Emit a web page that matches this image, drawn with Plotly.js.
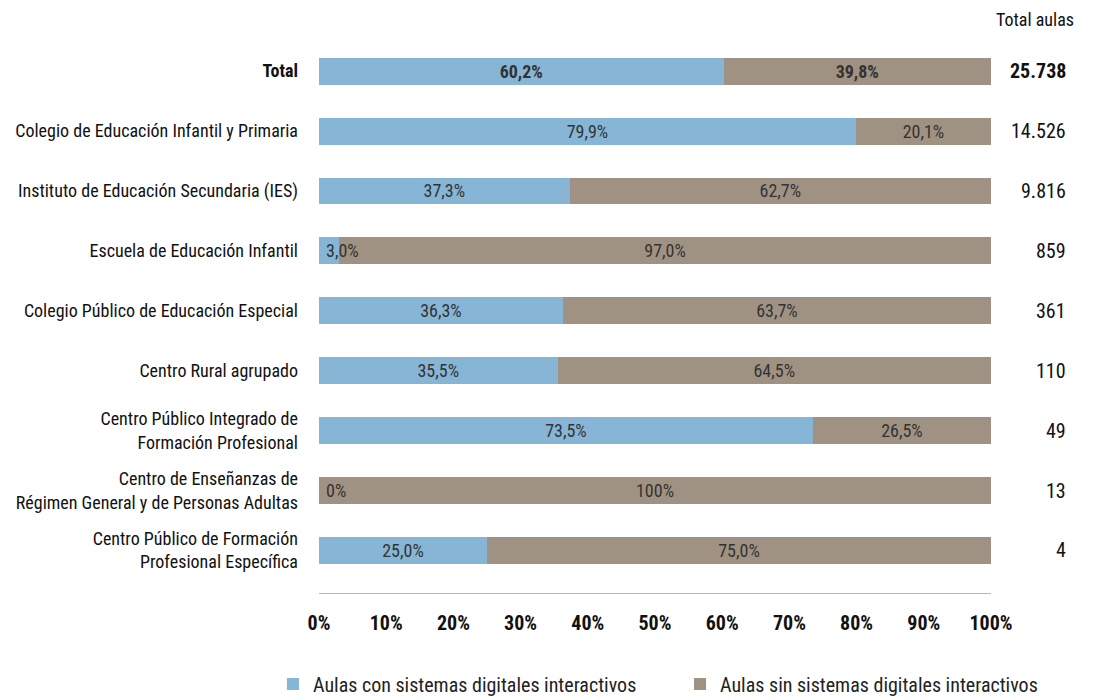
<!DOCTYPE html>
<html>
<head>
<meta charset="utf-8">
<script src="https://cdn.plot.ly/plotly-3.0.1.min.js"></script>
<style>html,body{margin:0;padding:0;background:#fff;}#chart{width:1094px;height:700px;}</style>
</head>
<body>
<div id="chart"></div>
<script>
var categories = [
  "Total",
  "Colegio de Educación Infantil y Primaria",
  "Instituto de Educación Secundaria (IES)",
  "Escuela de Educación Infantil",
  "Colegio Público de Educación Especial",
  "Centro Rural agrupado",
  "Centro Público Integrado de<br>Formación Profesional",
  "Centro de Enseñanzas de<br>Régimen General y de Personas Adultas",
  "Centro Público de Formación<br>Profesional Específica"
];
var conSistemas = [60.2, 79.9, 37.3, 3.0, 36.3, 35.5, 73.5, 0, 25.0];
var sinSistemas = [39.8, 20.1, 62.7, 97.0, 63.7, 64.5, 26.5, 100, 75.0];
var totalAulas = ["25.738", "14.526", "9.816", "859", "361", "110", "49", "13", "4"];
var tickValsX = [0, 10, 20, 30, 40, 50, 60, 70, 80, 90, 100];
var tickTextX = ["0%", "10%", "20%", "30%", "40%", "50%", "60%", "70%", "80%", "90%", "100%"];

var FONT = "'Roboto Condensed', 'Liberation Sans Narrow', 'DejaVu Sans Condensed', Roboto, sans-serif";
var BLUE = "#86b5d6";
var BROWN = "#a09282";
var BARTXT = 18;

function fmt(v) {
  if (v === 0) return "0%";
  if (v === 100) return "100%";
  return v.toFixed(1).replace(".", ",") + "%";
}
function lab(v, i) {
  var s = fmt(v);
  return i === 0 ? "<b>" + s + "</b>" : s;
}
var ids = categories.map(function (c, i) { return i; });

var traces = [
  {
    type: "bar", orientation: "h", name: "Aulas con sistemas digitales interactivos",
    y: ids, x: conSistemas,
    text: conSistemas.map(function (v, i) { return v < 5 ? "" : lab(v, i); }),
    textposition: "inside", insidetextanchor: "middle", constraintext: "none", textangle: 0,
    textfont: { family: FONT, size: BARTXT, color: "#333" },
    marker: { color: BLUE }, hoverinfo: "none", legend: "legend"
  },
  {
    type: "bar", orientation: "h", name: "Aulas sin sistemas digitales interactivos",
    y: ids, x: sinSistemas,
    text: sinSistemas.map(function (v, i) { return lab(v, i); }),
    textposition: "inside", insidetextanchor: "middle", constraintext: "none", textangle: 0,
    textfont: { family: FONT, size: BARTXT, color: "#333" },
    marker: { color: BROWN }, hoverinfo: "none", legend: "legend2"
  }
];

var annotations = [];
totalAulas.forEach(function (t, i) {
  annotations.push({
    xref: "paper", yref: "y", x: 1.1145, y: i, xanchor: "right", yanchor: "middle",
    text: i === 0 ? "<b>" + t + "</b>" : t, showarrow: false,
    font: { family: FONT, size: 20, color: "#111" }
  });
  if (conSistemas[i] < 5) {
    annotations.push({
      xref: "x", yref: "y", x: 0, y: i, xanchor: "left", yanchor: "middle", xshift: 5,
      text: fmt(conSistemas[i]), showarrow: false,
      font: { family: FONT, size: BARTXT, color: "#333" }
    });
  }
});
annotations.push({
  xref: "paper", yref: "paper", x: 1.127, y: 1.0, xanchor: "right", yanchor: "bottom", yshift: 8,
  text: "Total aulas", showarrow: false, font: { family: FONT, size: 18, color: "#111" }
});

var legendCommon = {
  orientation: "h", xref: "container", yref: "container",
  y: 0.023, xanchor: "left", yanchor: "middle",
  font: { family: FONT, size: 20, color: "#222" }
};
var legend1 = Object.assign({}, legendCommon, { x: 0.2495 });
var legend2 = Object.assign({}, legendCommon, { x: 0.6216 });

var layout = {
  width: 1094, height: 700,
  margin: { l: 319, r: 103, t: 40, b: 107 },
  paper_bgcolor: "#fff", plot_bgcolor: "#fff",
  barmode: "stack", bargap: 0.55,
  font: { family: FONT, color: "#111" },
  showlegend: true,
  legend: legend1,
  legend2: legend2,
  xaxis: {
    range: [0, 100], tickvals: tickValsX, ticktext: tickTextX,
    showgrid: false, zeroline: false, showline: true, linecolor: "#8ec2e0", linewidth: 1,
    ticks: "", ticklabelstandoff: 12,
    tickfont: { family: FONT, size: 20, color: "#111", weight: "bold" }, fixedrange: true
  },
  yaxis: {
    range: [8.71, -0.52], tickvals: ids,
    ticktext: categories.map(function (c, i) { return i === 0 ? "<b>" + c + "</b>" : c; }),
    showgrid: false, zeroline: false, showline: false, ticks: "", ticklabelstandoff: 20,
    tickfont: { family: FONT, size: 18, color: "#111" }, fixedrange: true
  },
  annotations: annotations
};

Plotly.newPlot("chart", traces, layout, { displayModeBar: false, staticPlot: true });
</script>
</body>
</html>
